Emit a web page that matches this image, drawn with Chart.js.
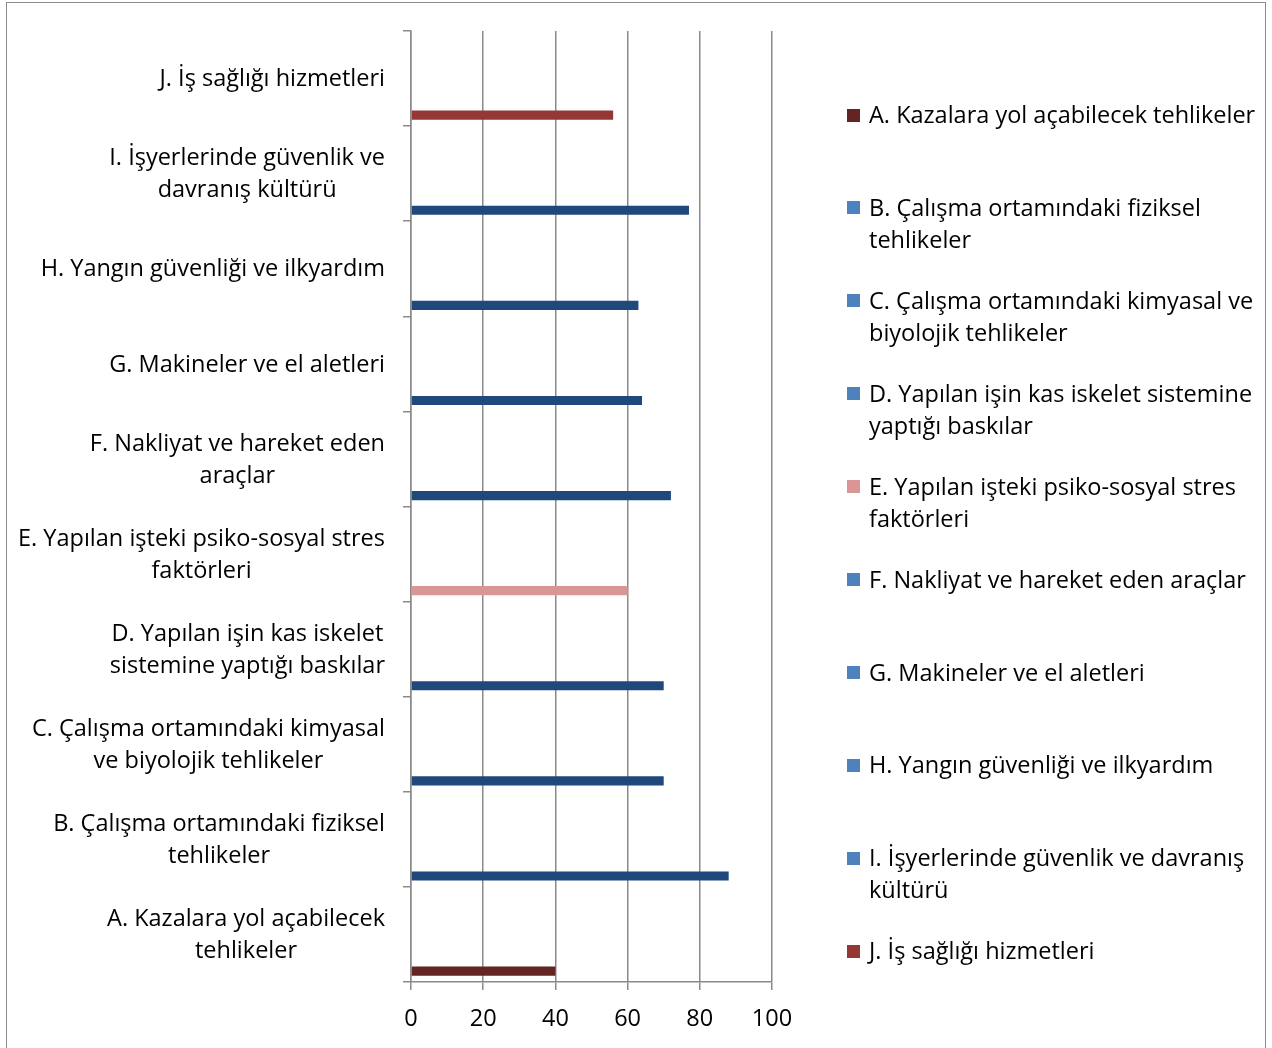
<!DOCTYPE html>
<html>
<head>
<meta charset="utf-8">
<script src="https://cdn.jsdelivr.net/npm/chart.js@4/dist/chart.umd.min.js"></script>
<style>
  html, body { margin: 0; padding: 0; background: #fff; }
  #wrap { position: relative; width: 1272px; height: 1048px; overflow: hidden; }
  #frame {
    position: absolute; left: 6px; top: 2px; width: 1260px; height: 1080px;
    border: 1.5px solid #8a8a8a; box-sizing: border-box;
  }
  canvas { position: absolute; left: 0; top: 0; }
</style>
</head>
<body>
<div id="wrap">
  <div id="frame"></div>
  <canvas id="chart" width="1272" height="1048"></canvas>
</div>
<script>

// ---------------- DATA ----------------

const categories = ["A", "B", "C", "D", "E", "F", "G", "H", "I", "J"];

const values = [40, 88, 70, 70, 60, 72, 64, 63, 77, 56];

const axisLabels = [
  ["A. Kazalara yol açabilecek", "tehlikeler"],
  ["B. Çalışma ortamındaki fiziksel", "tehlikeler"],
  ["C. Çalışma ortamındaki kimyasal", "ve biyolojik tehlikeler"],
  ["D. Yapılan işin kas iskelet", "sistemine yaptığı baskılar"],
  ["E. Yapılan işteki psiko-sosyal stres", "faktörleri"],
  ["F. Nakliyat ve hareket eden", "araçlar"],
  ["G. Makineler ve el aletleri"],
  ["H. Yangın güvenliği ve ilkyardım"],
  ["I. İşyerlerinde güvenlik ve", "davranış kültürü"],
  ["J. İş sağlığı hizmetleri"]
];

const legendLabels = [
  ["A. Kazalara yol açabilecek tehlikeler"],
  ["B. Çalışma ortamındaki fiziksel", "tehlikeler"],
  ["C. Çalışma ortamındaki kimyasal ve", "biyolojik tehlikeler"],
  ["D. Yapılan işin kas iskelet sistemine", "yaptığı baskılar"],
  ["E. Yapılan işteki psiko-sosyal stres", "faktörleri"],
  ["F. Nakliyat ve hareket eden araçlar"],
  ["G. Makineler ve el aletleri"],
  ["H. Yangın güvenliği ve ilkyardım"],
  ["I. İşyerlerinde güvenlik ve davranış", "kültürü"],
  ["J. İş sağlığı hizmetleri"]
];

const xTicks = [0, 20, 40, 60, 80, 100];


// ---------------- STYLE ----------------

const barColors = [
  "#632523", "#1f497d", "#1f497d", "#1f497d", "#d99694",
  "#1f497d", "#1f497d", "#1f497d", "#1f497d", "#953735"
];

const legendColors = [
  "#632523", "#4f81bd", "#4f81bd", "#4f81bd", "#d99694",
  "#4f81bd", "#4f81bd", "#4f81bd", "#4f81bd", "#953735"
];

const FONT = "'Open Sans'";
const LINE_H = 32;
const GRID = "#8a8a8a";

// size the font so the widest legend line is as wide as in the original (~383px)
const FONT_SIZE = (() => {
  const c = document.createElement("canvas").getContext("2d");
  c.font = "100px " + FONT;
  const w = c.measureText(legendLabels[0][0]).width;
  return Math.round(100 * 383 / w * 2) / 2;
})();


// ---------------- LABELS (left, centred lines) ----------------

const categoryLabels = {
  id: "categoryLabels",
  afterDraw(chart) {
    const ctx = chart.ctx;
    const y = chart.scales.y;
    ctx.save();
    ctx.font = FONT_SIZE + "px " + FONT;
    ctx.fillStyle = "#000";
    ctx.textBaseline = "middle";
    ctx.textAlign = "center";

    axisLabels.forEach((lines, i) => {
      const cy = y.getPixelForValue(i) + 1;
      const w = Math.max(...lines.map(l => ctx.measureText(l).width));
      const cx = 385 - w / 2;
      const top = cy - (lines.length - 1) * LINE_H / 2;
      lines.forEach((l, k) => ctx.fillText(l, cx, top + k * LINE_H));
    });
    ctx.restore();
  }
};


// ---------------- LEGEND (right) ----------------

const sideLegend = {
  id: "sideLegend",
  afterDraw(chart) {
    const ctx = chart.ctx;
    ctx.save();
    ctx.font = FONT_SIZE + "px " + FONT;
    ctx.textBaseline = "middle";
    ctx.textAlign = "left";

    legendLabels.forEach((lines, i) => {
      const y0 = 115 + i * 92.9;
      ctx.fillStyle = legendColors[i];
      ctx.fillRect(847, Math.round(y0 - 6.5), 13, 13);
      ctx.fillStyle = "#000";
      lines.forEach((l, k) => ctx.fillText(l, 869, y0 + 1.5 + k * LINE_H));
    });
    ctx.restore();
  }
};


// ---------------- CHART ----------------

new Chart(document.getElementById("chart"), {

  type: "bar",

  data: {
    labels: categories,
    datasets: [
      {
        label: "spacer",
        data: categories.map(() => null)
      },
      {
        label: "values",
        data: values,
        backgroundColor: barColors
      }
    ]
  },

  options: {
    indexAxis: "y",
    responsive: false,
    animation: false,
    categoryPercentage: 1.54,
    barPercentage: 0.125,
    layout: {
      padding: { left: 403, right: 500, top: 31, bottom: 0 }
    },
    plugins: {
      legend: { display: false },
      tooltip: { enabled: false }
    },
    scales: {
      x: {
        min: 0,
        max: 100,
        afterBuildTicks: scale => {
          scale.ticks = xTicks.map(v => ({ value: v }));
        },
        afterFit: scale => {
          scale.height = 66;
        },
        grid: {
          color: GRID,
          lineWidth: 1.5,
          tickLength: 8
        },
        border: { color: GRID, width: 1.5 },
        ticks: {
          color: "#000",
          padding: 15,
          maxRotation: 0,
          font: { family: "Open Sans", size: FONT_SIZE }
        }
      },
      y: {
        reverse: true,
        grid: {
          drawOnChartArea: false,
          color: GRID,
          lineWidth: 1.5,
          tickLength: 8
        },
        border: { color: GRID, width: 1.5 },
        ticks: { display: false }
      }
    }
  },

  plugins: [categoryLabels, sideLegend]

});

</script>
</body>
</html>
